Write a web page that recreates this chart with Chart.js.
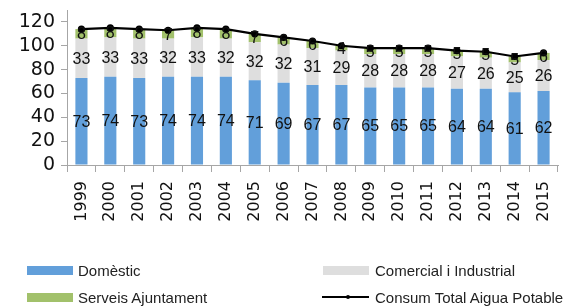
<!DOCTYPE html>
<html>
<head>
<meta charset="utf-8">
<script src="https://cdn.jsdelivr.net/npm/chart.js@4"></script>
<style>
    body { margin: 0; background: #fff; }
    .wrap { position: relative; width: 582px; height: 307px; }
    .legend-item { position: absolute; font-family: "Liberation Sans", Arial, sans-serif; font-size: 15px; color: #222; line-height: 18px; }
    .swatch { position: absolute; width: 46px; height: 9px; }
</style>
</head>
<body>
<div class="wrap">
    <canvas id="consumChart" width="582" height="307"></canvas>

    <div class="swatch" style="left:27px; top:266px; background:#629fda;"></div>
    <div class="legend-item" style="left:78px; top:262px;">Domèstic</div>

    <div class="swatch" style="left:27px; top:293px; background:#a2c16b;"></div>
    <div class="legend-item" style="left:78px; top:289px;">Serveis Ajuntament</div>

    <div class="swatch" style="left:323px; top:266px; background:#dedede;"></div>
    <div class="legend-item" style="left:375px; top:262px;">Comercial i Industrial</div>

    <div style="position:absolute; left:322px; top:296px; width:47px; height:2px; background:#000;"></div>
    <div style="position:absolute; left:346px; top:295px; width:4px; height:4px; border-radius:2px; background:#000;"></div>
    <div class="legend-item" style="left:375px; top:289px;">Consum Total Aigua Potable</div>
</div>

<script>
const years = ['1999', '2000', '2001', '2002', '2003', '2004', '2005', '2006', '2007', '2008', '2009', '2010', '2011', '2012', '2013', '2014', '2015'];
const domestic = [73, 74, 73, 74, 74, 74, 71, 69, 67, 67, 65, 65, 65, 64, 64, 61, 62];
const comercial = [33, 33, 33, 32, 33, 32, 32, 32, 31, 29, 28, 28, 28, 27, 26, 25, 26];
const serveis = [8, 8, 8, 7, 8, 8, 7, 6, 6, 4, 5, 5, 5, 5, 5, 5, 6];
const totalConsum = [114, 115, 114, 113, 115, 114, 110, 107, 104, 100, 98, 98, 98, 96, 95, 91, 94];
const yTicks = [0, 20, 40, 60, 80, 100, 120];

// labels in the middle of every bar segment
const segmentLabels = {
    id: 'segmentLabels',
    afterDatasetsDraw(chart) {
        const ctx = chart.ctx;
        ctx.save();
        ctx.font = '16px "Liberation Sans Narrow", "Liberation Sans", Arial, sans-serif';
        ctx.fillStyle = '#111';
        ctx.textAlign = 'center';
        ctx.textBaseline = 'middle';
        chart.data.datasets.forEach((ds, i) => {
            if (ds.type === 'line') return;
            chart.getDatasetMeta(i).data.forEach((bar, j) => {
                const y = (bar.y + bar.base) / 2 + 1;
                ctx.fillText(ds.data[j], bar.x, y);
            });
        });
        ctx.restore();
    }
};

const ctx = document.getElementById('consumChart').getContext('2d');

new Chart(ctx, {
    type: 'bar',
    data: {
        labels: years,
        datasets: [
            {
                type: 'line',
                label: 'Consum Total Aigua Potable',
                data: totalConsum,
                stack: 'total',
                borderColor: '#000',
                backgroundColor: '#000',
                borderWidth: 2.2,
                pointRadius: 2.5,
                tension: 0,
                order: 0
            },
            { label: 'Domèstic', data: domestic, backgroundColor: '#629fda', stack: 'bars', order: 1 },
            { label: 'Comercial i Industrial', data: comercial, backgroundColor: '#dedede', stack: 'bars', order: 1 },
            { label: 'Serveis Ajuntament', data: serveis, backgroundColor: '#a2c16b', stack: 'bars', order: 1 }
        ]
    },
    options: {
        responsive: false,
        animation: false,
        layout: { padding: { top: 10, right: 24, left: 0, bottom: 0 } },
        datasets: {
            bar: { barPercentage: 0.7, categoryPercentage: 0.6 }
        },
        plugins: {
            legend: { display: false },
            tooltip: { enabled: false }
        },
        scales: {
            x: {
                stacked: true,
                afterFit: scale => { scale.height = 142; },
                border: { color: '#a6a6a6', width: 1 },
                grid: { offset: true, drawOnChartArea: false, drawTicks: true, tickLength: 7, color: '#a6a6a6' },
                ticks: {
                    minRotation: 90,
                    maxRotation: 90,
                    autoSkip: false,
                    padding: 9,
                    color: '#111',
                    font: { family: '"DejaVu Sans", sans-serif', size: 16 }
                }
            },
            y: {
                stacked: true,
                min: 0,
                max: 130,
                afterFit: scale => { scale.width = 67; scale.paddingTop = 0; },
                afterBuildTicks: scale => { scale.ticks = yTicks.map(v => ({ value: v })); },
                border: { color: '#a6a6a6', width: 1 },
                grid: { drawOnChartArea: false, drawTicks: true, tickLength: 6, color: '#a6a6a6' },
                ticks: {
                    autoSkip: false,
                    padding: 6,
                    color: '#111',
                    font: { family: '"DejaVu Sans", sans-serif', size: 19 }
                }
            }
        }
    },
    plugins: [segmentLabels]
});
</script>
</body>
</html>
